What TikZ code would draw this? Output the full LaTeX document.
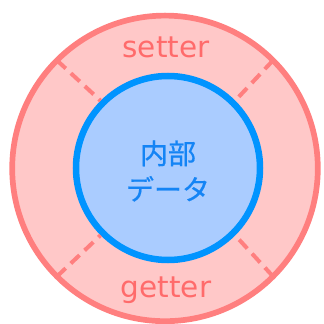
\documentclass[tikz,border=0pt]{standalone}
\usepackage{fontspec}
\setmainfont{DejaVu Sans}
\newfontfamily\jpfont[FakeBold=0.6]{Noto Sans CJK JP}
\definecolor{ringfill}{HTML}{FFC8C8}
\definecolor{ringline}{HTML}{FF7F7F}
\definecolor{ringtext}{HTML}{FF6B6B}
\definecolor{corefill}{HTML}{AACCFF}
\definecolor{coreline}{HTML}{0094FF}
\definecolor{coretext}{HTML}{1484F5}
\tikzset{
  ring/.style={circle, draw=ringline, fill=ringfill, line width=5.7pt, minimum size=305.6pt, inner sep=0pt, outer sep=0pt},
  core/.style={circle, draw=coreline, fill=corefill, line width=6.5pt, minimum size=184pt, inner sep=0pt, outer sep=0pt},
  divider/.style={draw=ringline, line width=4pt, dash pattern=on 12pt off 7pt, shorten >=3.25pt},
  ringlabel/.style={text=ringtext, font=\fontsize{29.5}{32}\selectfont, anchor=base},
  corelabel/.style={text=coretext, font=\jpfont\fontsize{28}{36}\selectfont, align=center}
}
\begin{document}
\begin{tikzpicture}[x=1pt,y=1pt]
\useasboundingbox (0,0) rectangle (324,324);
\node[ring] (outer) at (165,155.6) {};
\node[core] (inner) at (168,156) {};
\foreach \a in {45,135,225,315}{
  \draw[divider] (outer.\a) -- (inner.\a);
}
\node[ringlabel] (setter) at (166,266.3) {setter};
\node[ringlabel] (getter) at (166,26) {getter};
\node[corelabel] (data) at (168,153) {内部\\データ};
\end{tikzpicture}
\end{document}
